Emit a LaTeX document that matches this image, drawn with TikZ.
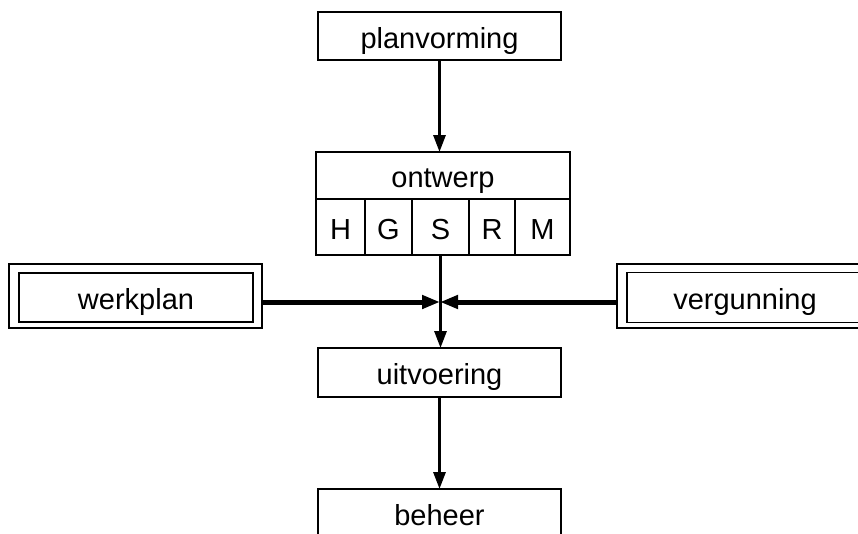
\documentclass[tikz,border=0pt]{standalone}
\usepackage{fontspec}
\setmainfont{Liberation Sans}
\usetikzlibrary{arrows.meta}
\begin{document}
\begin{tikzpicture}[x=1pt,y=-1pt,
  box/.style={draw=black,line width=1.3pt,inner sep=0pt,outer sep=0pt,
    text height=26pt,text depth=2pt,
    font=\fontsize{29}{31}\selectfont},
  outerbox/.style={draw=black,line width=2pt,inner sep=0pt,outer sep=0pt},
  varrow/.style={line width=3pt,-{Triangle[length=17pt,width=12pt]}},
  harrow/.style={line width=5pt,-{Triangle[length=18pt,width=13pt]}}]
\useasboundingbox (0,0) rectangle (858,533);
\clip (0,0) rectangle (858,533);
% main column
\node[box,minimum width=243pt,minimum height=48pt] (planvorming) at (439.5,36) {planvorming};
\node[box,minimum width=254pt,minimum height=47pt] (ontwerp) at (443,175.5) {ontwerp};
\node[box,minimum width=49pt,minimum height=56pt] (H) at (340.5,227) {H};
\node[box,minimum width=47pt,minimum height=56pt] (G) at (388.5,227) {G};
\node[box,minimum width=57pt,minimum height=56pt] (S) at (440.5,227) {S};
\node[box,minimum width=46pt,minimum height=56pt] (R) at (492,227) {R};
\node[box,minimum width=55pt,minimum height=56pt] (M) at (542.5,227) {M};
\node[box,minimum width=243pt,minimum height=49pt] (uitvoering) at (439.5,372.5) {uitvoering};
\node[box,minimum width=243pt,minimum height=48pt] (beheer) at (439.5,513) {beheer};
% side boxes
\node[outerbox,minimum width=253pt,minimum height=64pt] (werkplan) at (135.5,296) {};
\node[box,minimum width=234pt,minimum height=49pt] (werkplanin) at (136,297.5) {werkplan};
\node[outerbox,minimum width=255pt,minimum height=64pt] (vergunning) at (744.5,296) {};
\node[box,minimum width=236pt,minimum height=50pt] (vergunningin) at (745,297.5) {vergunning};
\coordinate (j) at (440,302);
% connectors
\draw[varrow] (planvorming.south) -- (planvorming.south |- ontwerp.north);
\draw[varrow] (S.south) -- (S.south |- uitvoering.north);
\draw[varrow] (uitvoering.south) -- (uitvoering.south |- beheer.north);
\draw[harrow] (werkplan.east |- j) -- (j);
\draw[harrow] (vergunning.west |- j) -- (j);
\end{tikzpicture}
\end{document}
